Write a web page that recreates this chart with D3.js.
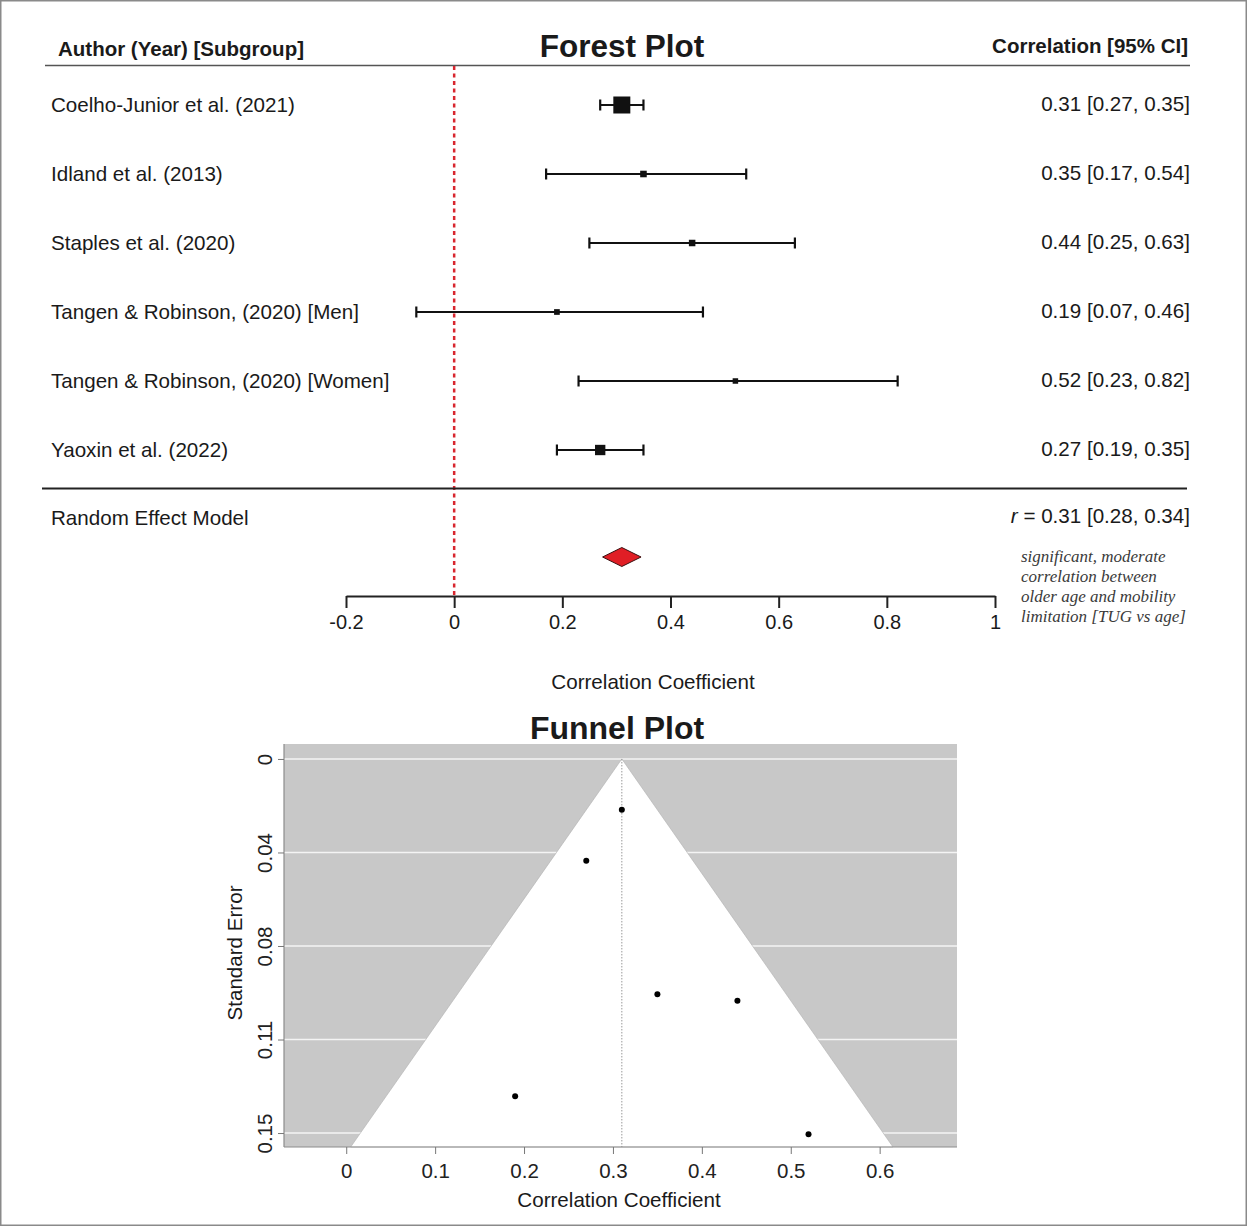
<!DOCTYPE html>
<html>
<head>
<meta charset="utf-8">
<script src="https://cdn.jsdelivr.net/npm/d3@7"></script>
<style>
  body { margin: 0; background: #fff; }
  svg { display: block; }
</style>
</head>
<body>
<svg id="chart" width="1247" height="1226"></svg>
<script>
// ---- study data ----
const studies = [
  "Coelho-Junior et al. (2021)",
  "Idland et al. (2013)",
  "Staples et al. (2020)",
  "Tangen & Robinson, (2020) [Men]",
  "Tangen & Robinson, (2020) [Women]",
  "Yaoxin et al. (2022)"
];
const estimates = [0.31, 0.35, 0.44, 0.19, 0.52, 0.27];
const lowerCI   = [0.27, 0.17, 0.25, -0.07, 0.23, 0.19];
const upperCI   = [0.35, 0.54, 0.63, 0.46, 0.82, 0.35];
const ciLabels  = [
  "0.31 [0.27, 0.35]",
  "0.35 [0.17, 0.54]",
  "0.44 [0.25, 0.63]",
  "0.19 [0.07, 0.46]",
  "0.52 [0.23, 0.82]",
  "0.27 [0.19, 0.35]"
];

// pooled random-effects estimate
const pooledEstimate = 0.31;
const pooledLower = 0.28;
const pooledUpper = 0.34;

const forestTicks = [-0.2, 0, 0.2, 0.4, 0.6, 0.8, 1];
const funnelXTicks = [0, 0.1, 0.2, 0.3, 0.4, 0.5, 0.6];
const funnelYTicks = [0, 0.0375, 0.075, 0.1125, 0.15];
const funnelYLabels = ["0", "0.04", "0.08", "0.11", "0.15"];

const noteLines = [
  "significant, moderate",
  "correlation between",
  "older age and mobility",
  "limitation [TUG vs age]"
];

// standard errors recovered from the 95% intervals
const stdErrors = lowerCI.map((lo, i) => (upperCI[i] - lo) / (2 * 1.96));

const SANS = "'Liberation Sans', Arial, Helvetica, sans-serif";
const SERIF = "'Liberation Serif', 'Times New Roman', serif";

const svg = d3.select("#chart")
  .attr("font-family", SANS)
  .style("color", "#1a1a1a");

// outer frame
svg.append("rect")
  .attr("x", 0.75).attr("y", 0.75).attr("width", 1245.5).attr("height", 1224.5)
  .attr("fill", "none").attr("stroke", "#8a8a8a").attr("stroke-width", 1.5);

// =================== FOREST PLOT ===================
const fx = d3.scaleLinear().domain([-0.2, 1]).range([346, 995]);
const fy = d3.scalePoint().domain(studies).range([105, 450]);
const boxSize = d3.scaleLinear()
  .domain(d3.extent(stdErrors, s => 1 / s))
  .range([5.5, 17]);

// header
svg.append("text").attr("x", 58).attr("y", 56)
  .attr("font-size", 20.5).attr("font-weight", "bold").attr("fill", "#1a1a1a")
  .text("Author (Year) [Subgroup]");
svg.append("text").attr("x", 622).attr("y", 57)
  .attr("text-anchor", "middle").attr("font-size", 31.5).attr("font-weight", "bold").attr("fill", "#1a1a1a")
  .text("Forest Plot");
svg.append("text").attr("x", 1188).attr("y", 53)
  .attr("text-anchor", "end").attr("font-size", 20.5).attr("font-weight", "bold").attr("fill", "#1a1a1a")
  .text("Correlation [95% CI]");

svg.append("line")
  .attr("x1", 45).attr("x2", 1190).attr("y1", 65.5).attr("y2", 65.5)
  .attr("stroke", "#555").attr("stroke-width", 1.5);

// null-effect reference line
svg.append("line")
  .attr("x1", fx(0)).attr("x2", fx(0)).attr("y1", 66).attr("y2", 596)
  .attr("stroke", "#d8262e").attr("stroke-width", 2.5)
  .attr("stroke-dasharray", "4,3.5");

// study rows
const rows = svg.append("g").selectAll("g")
  .data(studies.map((s, i) => ({
    name: s, est: estimates[i], lo: lowerCI[i], hi: upperCI[i],
    label: ciLabels[i], se: stdErrors[i]
  })))
  .join("g");

rows.append("text")
  .attr("x", 51).attr("y", d => fy(d.name) + 7)
  .attr("font-size", 20.6).attr("fill", "#1a1a1a")
  .text(d => d.name);

rows.append("text")
  .attr("x", 1190).attr("y", d => fy(d.name) + 6)
  .attr("text-anchor", "end").attr("font-size", 20.6).attr("fill", "#1a1a1a")
  .text(d => d.label);

rows.append("line")
  .attr("x1", d => fx(d.lo)).attr("x2", d => fx(d.hi))
  .attr("y1", d => fy(d.name)).attr("y2", d => fy(d.name))
  .attr("stroke", "#111").attr("stroke-width", 2.2);
rows.append("line")
  .attr("x1", d => fx(d.lo)).attr("x2", d => fx(d.lo))
  .attr("y1", d => fy(d.name) - 5.5).attr("y2", d => fy(d.name) + 5.5)
  .attr("stroke", "#111").attr("stroke-width", 2.2);
rows.append("line")
  .attr("x1", d => fx(d.hi)).attr("x2", d => fx(d.hi))
  .attr("y1", d => fy(d.name) - 5.5).attr("y2", d => fy(d.name) + 5.5)
  .attr("stroke", "#111").attr("stroke-width", 2.2);
rows.append("rect")
  .attr("x", d => fx(d.est) - boxSize(1 / d.se) / 2)
  .attr("y", d => fy(d.name) - boxSize(1 / d.se) / 2)
  .attr("width", d => boxSize(1 / d.se))
  .attr("height", d => boxSize(1 / d.se))
  .attr("fill", "#111");

// separator above the summary row
svg.append("line")
  .attr("x1", 42).attr("x2", 1187).attr("y1", 488.5).attr("y2", 488.5)
  .attr("stroke", "#222").attr("stroke-width", 2);

svg.append("text").attr("x", 51).attr("y", 525)
  .attr("font-size", 20.6).attr("fill", "#1a1a1a").text("Random Effect Model");

const pooledText = svg.append("text").attr("x", 1190).attr("y", 523)
  .attr("text-anchor", "end").attr("font-size", 20.6).attr("fill", "#1a1a1a");
pooledText.append("tspan").attr("font-style", "italic").text("r");
pooledText.append("tspan").text(` = ${pooledEstimate.toFixed(2)} [${pooledLower.toFixed(2)}, ${pooledUpper.toFixed(2)}]`);

// summary diamond
const dy = 557, dh = 9.5;
svg.append("polygon")
  .attr("points", [
    [fx(pooledLower) - 3, dy], [fx(pooledEstimate), dy - dh],
    [fx(pooledUpper) + 3, dy], [fx(pooledEstimate), dy + dh]
  ].map(p => p.join(",")).join(" "))
  .attr("fill", "#e01e25").attr("stroke", "#3a1010").attr("stroke-width", 1);

// interpretation note
svg.append("g").selectAll("text")
  .data(noteLines).join("text")
  .attr("x", 1021).attr("y", (d, i) => 562 + i * 20)
  .attr("font-family", SERIF)
  .attr("font-style", "italic").attr("font-size", 17)
  .attr("fill", "#3a3a3a")
  .text(d => d);

// forest x axis
const fAxis = svg.append("g").attr("transform", "translate(0,596)")
  .call(d3.axisBottom(fx).tickValues(forestTicks).tickSize(12).tickSizeOuter(0)
    .tickFormat(d => String(d)));
fAxis.attr("font-family", SANS);
fAxis.select(".domain").attr("stroke", "#222").attr("stroke-width", 2);
fAxis.selectAll(".tick line").attr("stroke", "#222").attr("stroke-width", 2);
fAxis.selectAll(".tick text").attr("font-size", 20).attr("dy", 0).attr("y", 33)
  .attr("fill", "#1a1a1a");

svg.append("text").attr("x", 653).attr("y", 689)
  .attr("text-anchor", "middle").attr("font-size", 20.6).attr("fill", "#1a1a1a")
  .text("Correlation Coefficient");

// =================== FUNNEL PLOT ===================
const gx = d3.scaleLinear().domain([-0.07, 0.687]).range([284, 957]);
const gy = d3.scaleLinear().domain([-0.006, 0.1556]).range([744, 1147]);
const seMax = gy.domain()[1];

svg.append("text").attr("x", 617).attr("y", 739)
  .attr("text-anchor", "middle").attr("font-size", 32).attr("font-weight", "bold").attr("fill", "#1a1a1a")
  .text("Funnel Plot");

svg.append("rect")
  .attr("x", gx.range()[0]).attr("y", gy.range()[0])
  .attr("width", gx.range()[1] - gx.range()[0])
  .attr("height", gy.range()[1] - gy.range()[0])
  .attr("fill", "#c8c8c8");

svg.append("g").selectAll("line")
  .data(funnelYTicks).join("line")
  .attr("x1", gx.range()[0]).attr("x2", gx.range()[1])
  .attr("y1", d => gy(d)).attr("y2", d => gy(d))
  .attr("stroke", "#f4f4f4").attr("stroke-width", 1.5);

// pseudo 95% confidence region
svg.append("polygon")
  .attr("points", [
    [gx(pooledEstimate), gy(0)],
    [gx(pooledEstimate - 1.96 * seMax), gy(seMax)],
    [gx(pooledEstimate + 1.96 * seMax), gy(seMax)]
  ].map(p => p.join(",")).join(" "))
  .attr("fill", "#fff").attr("stroke", "#b0b0b0").attr("stroke-width", 0.6);

svg.append("line")
  .attr("x1", gx(pooledEstimate)).attr("x2", gx(pooledEstimate))
  .attr("y1", gy(0)).attr("y2", gy(seMax))
  .attr("stroke", "#999").attr("stroke-width", 1).attr("stroke-dasharray", "1.5,1.5");

svg.append("g").selectAll("circle")
  .data(estimates.map((e, i) => ({ e, se: stdErrors[i] })))
  .join("circle")
  .attr("cx", d => gx(d.e)).attr("cy", d => gy(d.se)).attr("r", 3)
  .attr("fill", "#000");

// box edges
svg.append("line")
  .attr("x1", gx.range()[0]).attr("x2", gx.range()[1])
  .attr("y1", gy.range()[1]).attr("y2", gy.range()[1])
  .attr("stroke", "#8c8c8c").attr("stroke-width", 1.2);
svg.append("line")
  .attr("x1", gx.range()[0]).attr("x2", gx.range()[0])
  .attr("y1", gy.range()[0]).attr("y2", gy.range()[1])
  .attr("stroke", "#8c8c8c").attr("stroke-width", 1.2);

// funnel x axis
const gxAxis = svg.append("g").attr("transform", `translate(0,${gy.range()[1]})`)
  .call(d3.axisBottom(gx).tickValues(funnelXTicks).tickSize(7).tickSizeOuter(0)
    .tickFormat(d => String(d)));
gxAxis.attr("font-family", SANS);
gxAxis.select(".domain").remove();
gxAxis.selectAll(".tick line").attr("stroke", "#777");
gxAxis.selectAll(".tick text").attr("font-size", 20.5).attr("dy", 0).attr("y", 31)
  .attr("fill", "#222");

// funnel y axis with rotated labels
const gyAxis = svg.append("g").attr("transform", `translate(${gx.range()[0]},0)`)
  .call(d3.axisLeft(gy).tickValues(funnelYTicks).tickSize(6).tickSizeOuter(0)
    .tickFormat((d, i) => funnelYLabels[i]));
gyAxis.attr("font-family", SANS);
gyAxis.select(".domain").remove();
gyAxis.selectAll(".tick line").attr("stroke", "#777");
gyAxis.selectAll(".tick text")
  .attr("font-size", 20.5).attr("dy", 0).attr("x", 0)
  .attr("text-anchor", "middle")
  .attr("transform", "translate(-12,0) rotate(-90)")
  .attr("fill", "#222");

svg.append("text")
  .attr("transform", "translate(242,953) rotate(-90)")
  .attr("text-anchor", "middle").attr("font-size", 20.6).attr("fill", "#1a1a1a")
  .text("Standard Error");

svg.append("text").attr("x", 619).attr("y", 1207)
  .attr("text-anchor", "middle").attr("font-size", 20.6).attr("fill", "#1a1a1a")
  .text("Correlation Coefficient");
</script>
</body>
</html>
